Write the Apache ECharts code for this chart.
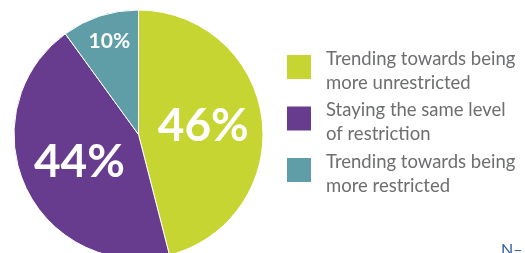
<!DOCTYPE html>
<html>
<head>
<meta charset="utf-8">
<script src="https://cdn.jsdelivr.net/npm/echarts@6/dist/echarts.min.js"></script>
<style>
  html, body { margin: 0; padding: 0; background: #fff; }
  #main { width: 525px; height: 253px; }
</style>
</head>
<body>
<div id="main"></div>
<script>
// 各类占比
var categories = ['Trending towards being more unrestricted', 'Staying the same level of restriction', 'Trending towards being more restricted'];
var legendLines = [['Trending towards being', 'more unrestricted'], ['Staying the same level', 'of restriction'], ['Trending towards being', 'more restricted']];
var shares = [46, 44, 10];
var colors = ['#c6d531', '#673b8d', '#5f9ea6'];

var myChart = echarts.init(document.getElementById('main'));

myChart.setOption({
  animation: false,
  color: colors,
  graphic: [{
    type: 'text',
    left: 501,
    top: 242,
    style: { text: 'N–', fill: '#2d5ca8', font: '16px Lato' }
  }],
  legend: {
    orient: 'vertical',
    left: 285,
    top: 40,
    padding: 0,
    itemWidth: 26,
    itemHeight: 26,
    itemGap: -1,
    icon: 'rect',
    selectedMode: false,
    textStyle: {
      fontFamily: 'Lato',
      fontSize: 18.5,
      color: '#6d6e70',
      rich: {
        s: { fontSize: 6, lineHeight: 8 },
        a: { fontFamily: 'Lato', fontSize: 18.5, lineHeight: 24, color: '#6d6e70', padding: [0, 0, 0, 9] }
      }
    },
    formatter: function (name) {
      // 顶部加一行空白，让文字下移
      var lines = legendLines[categories.indexOf(name)];
      return '{s| }\n{a|' + lines[0] + '}\n{a|' + lines[1] + '}';
    },
    data: categories
  },
  series: [{
    type: 'pie',
    center: [138.5, 134.5],
    radius: 124.5,
    startAngle: 90,
    clockwise: true,
    avoidLabelOverlap: false,
    itemStyle: { borderColor: '#fff', borderWidth: 1 },
    label: {
      show: true,
      position: 'inside',
      formatter: '{c}%',
      color: '#fff',
      fontFamily: 'Lato',
      fontWeight: 'bold',
      fontSize: 46
    },
    labelLayout: function (params) {
      // 小扇区标签往外挪
      if (params.dataIndex === 2) return { dx: -9, dy: -31 };
      return {};
    },
    emphasis: { disabled: true },
    data: shares.map(function (v, i) {
      var item = { name: categories[i], value: v };
      if (i === 2) item.label = { fontSize: 21 };
      return item;
    })
  }]
});
</script>
</body>
</html>
